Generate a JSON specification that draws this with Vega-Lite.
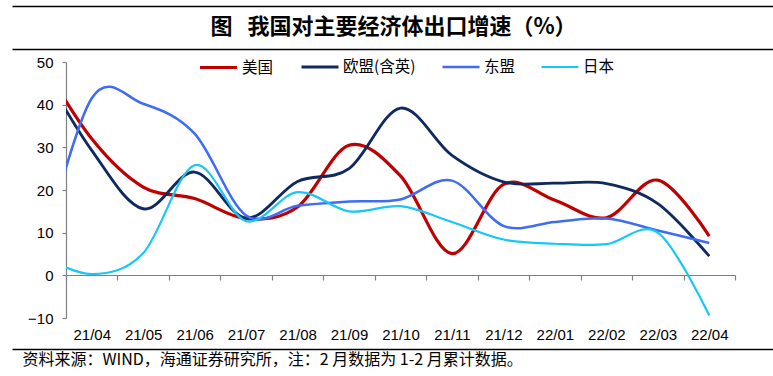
{
  "$schema": "https://vega.github.io/schema/vega-lite/v6.json",
  "width": 669,
  "height": 256,
  "autosize": "none",
  "padding": {"left": 66, "top": 62, "right": 38, "bottom": 58},
  "background": "white",
  "config": {"view": {"stroke": null}},
  "data": {"values": [
    {"month": "21/03", "i": -1, "series": "美国", "value": 50.8},
    {"month": "21/04", "i": 0, "series": "美国", "value": 32.0},
    {"month": "21/05", "i": 1, "series": "美国", "value": 20.7},
    {"month": "21/06", "i": 2, "series": "美国", "value": 18.0},
    {"month": "21/07", "i": 3, "series": "美国", "value": 13.3},
    {"month": "21/08", "i": 4, "series": "美国", "value": 16.0},
    {"month": "21/09", "i": 5, "series": "美国", "value": 30.5},
    {"month": "21/10", "i": 6, "series": "美国", "value": 23.3},
    {"month": "21/11", "i": 7, "series": "美国", "value": 5.1},
    {"month": "21/12", "i": 8, "series": "美国", "value": 21.3},
    {"month": "22/01", "i": 9, "series": "美国", "value": 17.6},
    {"month": "22/02", "i": 10, "series": "美国", "value": 13.5},
    {"month": "22/03", "i": 11, "series": "美国", "value": 22.3},
    {"month": "22/04", "i": 12, "series": "美国", "value": 9.2},
    {"month": "21/03", "i": -1, "series": "欧盟(含英)", "value": 49.1},
    {"month": "21/04", "i": 0, "series": "欧盟(含英)", "value": 29.3},
    {"month": "21/05", "i": 1, "series": "欧盟(含英)", "value": 15.6},
    {"month": "21/06", "i": 2, "series": "欧盟(含英)", "value": 24.2},
    {"month": "21/07", "i": 3, "series": "欧盟(含英)", "value": 13.4},
    {"month": "21/08", "i": 4, "series": "欧盟(含英)", "value": 22.0},
    {"month": "21/09", "i": 5, "series": "欧盟(含英)", "value": 25.0},
    {"month": "21/10", "i": 6, "series": "欧盟(含英)", "value": 39.2},
    {"month": "21/11", "i": 7, "series": "欧盟(含英)", "value": 28.1},
    {"month": "21/12", "i": 8, "series": "欧盟(含英)", "value": 21.9},
    {"month": "22/01", "i": 9, "series": "欧盟(含英)", "value": 21.6},
    {"month": "22/02", "i": 10, "series": "欧盟(含英)", "value": 21.5},
    {"month": "22/03", "i": 11, "series": "欧盟(含英)", "value": 16.8},
    {"month": "22/04", "i": 12, "series": "欧盟(含英)", "value": 4.5},
    {"month": "21/03", "i": -1, "series": "东盟", "value": 3.3},
    {"month": "21/04", "i": 0, "series": "东盟", "value": 41.5},
    {"month": "21/05", "i": 1, "series": "东盟", "value": 40.2},
    {"month": "21/06", "i": 2, "series": "东盟", "value": 33.2},
    {"month": "21/07", "i": 3, "series": "东盟", "value": 14.0},
    {"month": "21/08", "i": 4, "series": "东盟", "value": 16.3},
    {"month": "21/09", "i": 5, "series": "东盟", "value": 17.3},
    {"month": "21/10", "i": 6, "series": "东盟", "value": 17.8},
    {"month": "21/11", "i": 7, "series": "东盟", "value": 22.2},
    {"month": "21/12", "i": 8, "series": "东盟", "value": 11.6},
    {"month": "22/01", "i": 9, "series": "东盟", "value": 12.5},
    {"month": "22/02", "i": 10, "series": "东盟", "value": 13.3},
    {"month": "22/03", "i": 11, "series": "东盟", "value": 10.5},
    {"month": "22/04", "i": 12, "series": "东盟", "value": 7.6},
    {"month": "21/03", "i": -1, "series": "日本", "value": 4.7},
    {"month": "21/04", "i": 0, "series": "日本", "value": 0.3},
    {"month": "21/05", "i": 1, "series": "日本", "value": 5.2},
    {"month": "21/06", "i": 2, "series": "日本", "value": 25.8},
    {"month": "21/07", "i": 3, "series": "日本", "value": 12.7},
    {"month": "21/08", "i": 4, "series": "日本", "value": 19.5},
    {"month": "21/09", "i": 5, "series": "日本", "value": 15.0},
    {"month": "21/10", "i": 6, "series": "日本", "value": 16.2},
    {"month": "21/11", "i": 7, "series": "日本", "value": 12.5},
    {"month": "21/12", "i": 8, "series": "日本", "value": 8.4},
    {"month": "22/01", "i": 9, "series": "日本", "value": 7.4},
    {"month": "22/02", "i": 10, "series": "日本", "value": 7.3},
    {"month": "22/03", "i": 11, "series": "日本", "value": 10.0},
    {"month": "22/04", "i": 12, "series": "日本", "value": -9.4}
  ]},
  "layer": [
    {
      "mark": {"type": "line", "interpolate": "cardinal", "tension": 0, "clip": true},
      "encoding": {
        "x": {
          "field": "i", "type": "quantitative",
          "scale": {"domain": [-0.5, 12.5], "nice": false, "zero": false},
          "axis": {
            "orient": "bottom", "offset": -43,
            "values": [-0.5, 0.5, 1.5, 2.5, 3.5, 4.5, 5.5, 6.5, 7.5, 8.5, 9.5, 10.5, 11.5, 12.5],
            "tickSize": 5, "tickColor": "#808080", "domainColor": "#808080", "domainWidth": 1.2, "tickWidth": 1.2,
            "labelPadding": 47, "labelOffset": 25.73, "labelFlush": false, "labelOverlap": false, "labelBound": false,
            "labelExpr": "datum.value < 12 ? ['21/04','21/05','21/06','21/07','21/08','21/09','21/10','21/11','21/12','22/01','22/02','22/03','22/04'][round(datum.value + 0.5)] : ''",
            "labelFont": "Liberation Sans", "labelFontSize": 15, "labelColor": "black",
            "grid": false, "title": null
          }
        },
        "y": {
          "field": "value", "type": "quantitative",
          "scale": {"domain": [-10, 50], "nice": false, "zero": false},
          "axis": {
            "values": [-10, 0, 10, 20, 30, 40, 50],
            "tickSize": 4, "tickColor": "#808080", "domainColor": "#808080", "domainWidth": 1.2, "tickWidth": 1.2,
            "labelPadding": 9, "labelFont": "Liberation Sans", "labelFontSize": 15, "labelColor": "black",
            "grid": false, "title": null
          }
        },
        "color": {
          "field": "series", "type": "nominal",
          "scale": {"domain": ["美国", "欧盟(含英)", "东盟", "日本"], "range": ["#C00000", "#10295F", "#3F6CF5", "#17C7F5"]},
          "legend": {
            "orient": "none", "legendX": 132, "legendY": -15, "direction": "horizontal", "title": null,
            "gridAlign": "none",
            "symbolType": "stroke", "symbolSize": 1369, "symbolStrokeWidth": 2.5,
            "labelFont": "Noto Sans CJK SC", "labelFontSize": 15.5, "labelColor": "black", "labelOffset": 3,
            "columnPadding": 21, "padding": 0
          }
        },
        "strokeWidth": {
          "field": "series", "type": "nominal",
          "scale": {"domain": ["美国", "欧盟(含英)", "东盟", "日本"], "range": [3.2, 2.2, 2.2, 2.2]},
          "legend": null
        }
      }
    },
    {
      "mark": {"type": "point", "opacity": 0},
      "encoding": {
        "x": {
          "field": "i", "type": "quantitative",
          "scale": {"domain": [0, 1], "range": [-54, 707]},
          "axis": {
            "orient": "top", "offset": 13, "domainColor": "black", "domainWidth": 1.6,
            "ticks": false, "labels": false, "grid": false,
            "title": "图\u00a0\u00a0\u00a0我国对主要经济体出口增速（%）",
            "titleFont": "Noto Sans CJK SC", "titleFontSize": 22, "titleFontWeight": "bold", "titleColor": "black",
            "titleX": 327, "titleY": -23, "titleAlign": "center", "titleBaseline": "middle", "titleAngle": 0
          }
        }
      }
    },
    {
      "mark": {"type": "point", "opacity": 0},
      "encoding": {
        "x": {
          "field": "i", "type": "quantitative",
          "scale": {"domain": [0, 1], "range": [-54, 707]},
          "axis": {
            "orient": "bottom", "offset": -312, "domainColor": "black", "domainWidth": 1.6,
            "ticks": false, "labels": false, "grid": false, "title": null
          }
        }
      }
    },
    {
      "mark": {"type": "point", "opacity": 0},
      "encoding": {
        "x": {
          "field": "i", "type": "quantitative",
          "scale": {"domain": [0, 1], "range": [-54, 707]},
          "axis": {
            "orient": "bottom", "offset": 31, "domainColor": "black", "domainWidth": 1.6,
            "ticks": false, "labels": false, "grid": false,
            "title": "资料来源：WIND，海通证券研究所，注：2 月数据为 1-2 月累计数据。",
            "titleFont": "Noto Sans CJK SC", "titleFontSize": 16, "titleFontWeight": "normal", "titleColor": "black",
            "titleX": -44, "titleY": 10, "titleAlign": "left", "titleBaseline": "middle", "titleAngle": 0
          }
        }
      }
    }
  ],
  "resolve": {"scale": {"x": "independent"}}
}
